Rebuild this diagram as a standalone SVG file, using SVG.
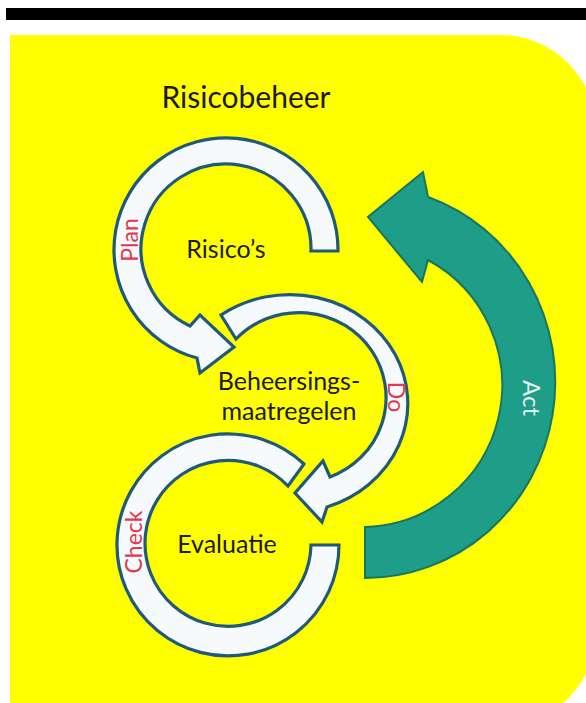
<svg xmlns="http://www.w3.org/2000/svg" width="586" height="703" viewBox="0 0 586 703">
<style>
.ring{fill:#F7FAFD;stroke:#1F5A7A;stroke-width:3.2;stroke-linejoin:miter}
.act{fill:#1E9E88;stroke:#177563;stroke-width:2}
.node{font-family:Lato,"Liberation Sans",sans-serif;font-size:25px;fill:#1a1a1a;text-anchor:middle}
.lbl{font-family:Lato,"Liberation Sans",sans-serif;font-size:23px;fill:#E2384D;text-anchor:middle}
.actlbl{font-family:Lato,"Liberation Sans",sans-serif;font-size:24px;fill:#E4F3F0;text-anchor:middle}
.title{font-family:Lato,"Liberation Sans",sans-serif;font-size:30px;fill:#1a1a1a;text-anchor:middle}
</style>
<rect width="586" height="703" fill="#ffffff"/>
<rect x="6" y="8" width="580" height="12" fill="#000000"/>
<path d="M10,35 H500 A96.5,96.5 0 0 1 596.5,131.5 V630 A96.5,96.5 0 0 1 500,726.5 H10 Z" fill="#FFFF00"/>
<text class="title" x="246" y="108">Risicobeheer</text>
<g id="connectors">
  <g id="plan">
    <path class="ring" d="M338,251 A112,112 0 1 0 197,358 L200,373 L234,347 L200,315 L190,326 A85,85 0 1 1 311,251 Z"/>
    <text class="lbl" x="138" y="240" transform="rotate(-90 138 240)">Plan</text>
  </g>
  <g id="check">
    <path class="ring" d="M304,464 A111,111 0 1 0 339,545 L311,545 A83,83 0 1 1 288,486 Z"/>
    <text class="lbl" x="142" y="542" transform="rotate(-90 142 542)">Check</text>
  </g>
  <g id="do">
    <path class="ring" d="M221,315 A118,109 0 1 1 327,507 L322,522 L295,493 L323,461 L330,477 A87,85 0 1 0 236,339 Z"/>
    <text class="lbl" x="388" y="397" transform="rotate(90 388 397)">Do</text>
  </g>
  <g id="act">
    <path class="act" d="M365,578 A190,196 0 0 0 428,197 L423,172 L368,217 L422,282 L428,260 A141,142 0 0 1 365,527 Z"/>
    <text class="actlbl" x="523" y="398" transform="rotate(90 523 398)">Act</text>
  </g>
</g>
<g id="risicos"><text class="node" x="226" y="258">Risico’s</text></g>
<g id="beheersingsmaatregelen"><text class="node" x="289" y="390">Beheersings-</text><text class="node" x="289" y="420">maatregelen</text></g>
<g id="evaluatie"><text class="node" x="227" y="553">Evaluatie</text></g>
</svg>
